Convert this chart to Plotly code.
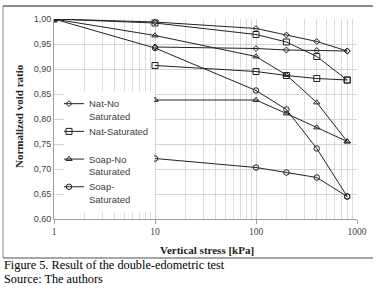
import plotly.graph_objects as go

# ---- data ----
stress_load = [1, 10, 100, 200, 400, 800]
stress_sat = [10, 100, 200, 400, 800]

nat_nosat_a = [1.000, 0.994, 0.981, 0.968, 0.955, 0.936]
nat_nosat_b = [0.944, 0.941, 0.938, 0.937, 0.936]
nat_sat_a = [1.000, 0.992, 0.969, 0.954, 0.925, 0.878]
nat_sat_b = [0.907, 0.895, 0.887, 0.881, 0.878]
soap_nosat_a = [1.000, 0.967, 0.925, 0.888, 0.833, 0.755]
soap_nosat_b = [0.838, 0.838, 0.811, 0.783, 0.755]
soap_sat_a = [1.000, 0.942, 0.857, 0.819, 0.741, 0.645]
soap_sat_b = [0.721, 0.703, 0.693, 0.683, 0.645]

series_names = ["Nat-No<br>Saturated", "Nat-Saturated<br> ", "Soap-No<br>Saturated", "Soap-<br>Saturated"]
y_ticks = [0.60, 0.65, 0.70, 0.75, 0.80, 0.85, 0.90, 0.95, 1.00]
y_ticktext = ["0,60", "0,65", "0,70", "0,75", "0,80", "0,85", "0,90", "0,95", "1,00"]
x_ticks = [1, 10, 100, 1000]
x_ticktext = ["1", "10", "100", "1000"]
x_minor = [m * 10 ** e for e in range(0, 3) for m in range(2, 10)]

series = [
    (series_names[0], nat_nosat_a, nat_nosat_b, "diamond-open", 4.5),
    (series_names[1], nat_sat_a, nat_sat_b, "square-open", 6),
    (series_names[2], soap_nosat_a, soap_nosat_b, "triangle-up-open", 5.5),
    (series_names[3], soap_sat_a, soap_sat_b, "circle-open", 5.5),
]

fig = go.Figure()
for i, (name, ya, yb, sym, size) in enumerate(series):
    mk = dict(symbol=sym, size=size, color="#222222", line=dict(width=1, color="#222222"))
    fig.add_trace(go.Scatter(x=stress_load, y=ya, mode="lines+markers", name=name,
                             legendgroup=str(i), showlegend=True,
                             line=dict(color="#222222", width=1), marker=mk))
    fig.add_trace(go.Scatter(x=stress_sat, y=yb, mode="lines+markers", name=name,
                             legendgroup=str(i), showlegend=False,
                             line=dict(color="#222222", width=1), marker=mk))

L, R, T, B = 54, 357, 19, 219
W, H = 385, 290
pw, ph = R - L, B - T

def px(x):
    return (x - L) / pw

def py(y):
    return (B - y) / ph

fig.update_layout(
    width=W, height=H,
    margin=dict(l=L, r=W - R, t=T, b=H - B, pad=0),
    paper_bgcolor="white", plot_bgcolor="white",
    showlegend=True,
    legend=dict(x=px(64), y=py(91), xanchor="left", yanchor="top",
                bgcolor="white", borderwidth=0, valign="top", indentation=-15,
                font=dict(family="Liberation Sans", size=9.5, color="#404040"),
                tracegroupgap=0, itemwidth=30),
    xaxis=dict(type="log", range=[0, 3], tickvals=x_ticks, ticktext=x_ticktext,
               showgrid=True, gridcolor="#d4d4d4", gridwidth=1,
               minor=dict(tickvals=x_minor, showgrid=True, gridcolor="#dcdcdc", gridwidth=1, ticks=""),
               showline=True, linecolor="#a0a0a0", linewidth=1,
               ticks="outside", ticklen=4, tickcolor="#a0a0a0",
               tickfont=dict(family="Liberation Serif", size=9.5, color="#404040"),
               zeroline=False),
    yaxis=dict(range=[0.6, 1.0], tickvals=y_ticks, ticktext=y_ticktext,
               showgrid=True, gridcolor="#d4d4d4", gridwidth=1,
               showline=True, linecolor="#a0a0a0", linewidth=1,
               ticks="",
               tickfont=dict(family="Liberation Sans", size=9, color="#404040"),
               zeroline=False),
    shapes=[
        dict(type="line", xref="paper", yref="paper", x0=px(3), x1=px(373), y0=py(6), y1=py(6),
             line=dict(color="#8a8a8a", width=2)),
        dict(type="line", xref="paper", yref="paper", x0=px(3), x1=px(373), y0=py(258), y1=py(258),
             line=dict(color="#8a8a8a", width=1.5)),
        dict(type="line", xref="paper", yref="paper", x0=px(3), x1=px(3), y0=py(6), y1=py(258),
             line=dict(color="#8a8a8a", width=1)),
    ],
    annotations=[
        dict(text="<b>Normalized void ratio</b>", xref="paper", yref="paper",
             x=px(19), y=py(116), textangle=-90, showarrow=False,
             xanchor="center", yanchor="middle",
             font=dict(family="Liberation Serif", size=11, color="#222222")),
        dict(text="<b>Vertical stress [kPa]</b>", xref="paper", yref="paper",
             x=px(207), y=py(250), showarrow=False, xanchor="center", yanchor="middle",
             font=dict(family="Liberation Serif", size=11, color="#222222")),
        dict(text="Figure 5. Result of the double-edometric test", xref="paper", yref="paper",
             x=px(2), y=py(265), showarrow=False, xanchor="left", yanchor="middle",
             font=dict(family="Liberation Serif", size=12.3, color="black")),
        dict(text="Source: The authors", xref="paper", yref="paper",
             x=px(2), y=py(279), showarrow=False, xanchor="left", yanchor="middle",
             font=dict(family="Liberation Serif", size=12.3, color="black")),
    ],
)

fig.write_html("out.html", config={"displayModeBar": False},
               post_script="document.body.style.margin='0';document.body.style.overflow='hidden';")
